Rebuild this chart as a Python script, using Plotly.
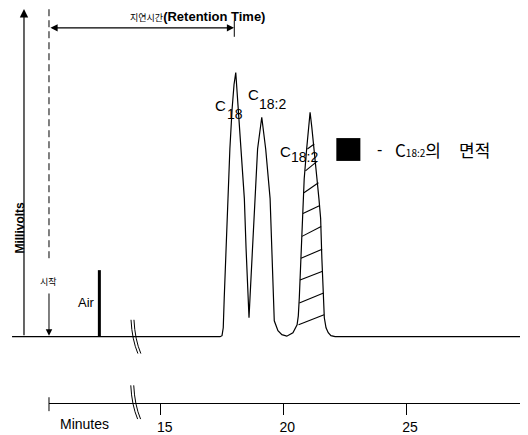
import plotly.graph_objects as go

# ---------------- data (time in minutes, signal in relative millivolt units) ----------------
time_min = [8.94, 17.42, 17.50, 17.55, 17.59, 17.66, 17.74, 17.82, 17.91, 17.99, 18.06,
            18.16, 18.27, 18.41, 18.48, 18.55, 18.60, 18.64, 18.75, 18.84, 18.95, 19.12,
            19.28, 19.46, 19.53, 19.59, 19.63, 19.78, 19.94, 20.14, 20.39, 20.56, 20.61,
            20.65, 20.72, 20.77, 20.85, 20.95, 21.02, 21.09, 21.16, 21.26, 21.37, 21.45,
            21.52, 21.57, 21.62, 21.67, 21.74, 21.83, 21.94, 22.11, 29.73]
signal = [0, 0, 1, 9, 39, 89, 139, 189, 229, 254, 266,
          229, 189, 139, 89, 39, 19, 39, 89, 139, 189, 221,
          189, 139, 89, 39, 16, 6, 2, 0.5, 4, 12, 21,
          39, 79, 119, 159, 189, 211, 226, 211, 189, 159, 139,
          119, 79, 39, 19, 9, 4, 1, 0, 0]

# hatch lines inside the C18:2 peak (left end -> right end)
hatch_left_t = [20.62, 20.65, 20.68, 20.72, 20.76, 20.80, 20.84, 20.90, 20.98]
hatch_left_y = [12, 34, 57, 79, 101, 124, 145, 167, 189]
hatch_right_t = [21.66, 21.64, 21.60, 21.58, 21.54, 21.49, 21.43, 21.35, 21.26]
hatch_right_y = [22, 44, 66, 88, 111, 132, 155, 176, 194]

air_time = 12.50
air_height = 67

start_time = 10.446
retention_time = 17.99

tick_values = [15, 20, 25]
tick_labels = ["15", "20", "25"]

# ---------------- figure ----------------
PAGE_W, PAGE_H = 528, 435
OFF = 8  # default page body margin
W, H = PAGE_W - OFF, PAGE_H - OFF
PX_PER_MIN = 24.53
X0 = 15 + (OFF - 160.7) / PX_PER_MIN
X1 = X0 + W / PX_PER_MIN
Y0, Y1 = -96, 339 - OFF

LAT = "Liberation Sans, Arial, sans-serif"
KR = "Noto Sans CJK KR, sans-serif"

fig = go.Figure()

fig.add_trace(go.Scatter(x=time_min, y=signal, mode="lines",
                         line=dict(color="black", width=1.2), hoverinfo="skip"))

hx, hy = [], []
for a, b, c, d in zip(hatch_left_t, hatch_left_y, hatch_right_t, hatch_right_y):
    hx += [a, c, None]
    hy += [b, d, None]
fig.add_trace(go.Scatter(x=hx, y=hy, mode="lines",
                         line=dict(color="black", width=1.1), hoverinfo="skip"))

fig.add_trace(go.Scatter(x=[air_time, air_time], y=[0, air_height], mode="lines",
                         line=dict(color="black", width=3), hoverinfo="skip"))

# invisible trace to realise the bottom time axis
fig.add_trace(go.Scatter(x=tick_values, y=[None] * len(tick_values), xaxis="x2", yaxis="y",
                         mode="markers", marker=dict(opacity=0), hoverinfo="skip"))

shapes = []
# dashed start line
shapes.append(dict(type="line", xref="x", yref="y", x0=start_time, x1=start_time, y0=79, y1=331,
                   line=dict(color="black", width=1, dash="7px,4px")))
# retention end tick
shapes.append(dict(type="line", xref="x", yref="y", x0=18.0, x1=18.0, y0=302, y1=318,
                   line=dict(color="black", width=1)))
# bottom axis start tick
shapes.append(dict(type="line", xref="x", yref="y", x0=start_time, x1=start_time, y0=-61, y1=-75,
                   line=dict(color="black", width=1)))
# axis break marks
for dx in (0, 0.12):
    shapes.append(dict(type="path", xref="x", yref="y",
                       path=f"M {13.79+dx},17 Q {13.83+dx},-3 {14.07+dx},-17",
                       line=dict(color="black", width=1)))
    shapes.append(dict(type="path", xref="x", yref="y",
                       path=f"M {13.78+dx},-49 Q {13.82+dx},-69 {14.06+dx},-83",
                       line=dict(color="black", width=1)))
# legend swatch
shapes.append(dict(type="rect", xref="x", yref="y", x0=22.16, x1=23.14, y0=177, y1=200,
                   fillcolor="black", line=dict(color="black", width=0)))

ann = []
# y axis arrow
ann.append(dict(x=9.427, y=330, ax=9.427, ay=0, xref="x", yref="y", axref="x", ayref="y",
                text="", showarrow=True, arrowhead=2, arrowsize=1.4, arrowwidth=1.2, arrowcolor="black"))
ann.append(dict(x=9.27, y=110, xref="x", yref="y", text="<b>Millivolts</b>", textangle=-90,
                showarrow=False, font=dict(family=LAT, size=12, color="black")))
# start arrow
ann.append(dict(x=start_time, y=1, ax=start_time, ay=45, xref="x", yref="y", axref="x", ayref="y",
                text="", showarrow=True, arrowhead=2, arrowsize=1.3, arrowwidth=1, arrowcolor="black"))
ann.append(dict(x=start_time, y=56, xref="x", yref="y", text="시작", showarrow=False,
                font=dict(family=KR, size=9, color="black")))
# retention arrow
ann.append(dict(x=retention_time, y=311, ax=start_time, ay=311, xref="x", yref="y", axref="x", ayref="y",
                text="", showarrow=True, arrowhead=2, startarrowhead=2, arrowside="end+start",
                arrowsize=1.3, startarrowsize=1.3, arrowwidth=1.1, arrowcolor="black"))
ann.append(dict(x=13.667, y=322, xref="x", yref="y", xanchor="left",
                text=f"<span style='font-family:{KR};font-size:9px'>지연시간</span><b>(Retention Time)</b>",
                showarrow=False, font=dict(family=LAT, size=13, color="black")))
# Air label
ann.append(dict(x=12.40, y=34, xref="x", yref="y", xanchor="right", text="Air", showarrow=False,
                font=dict(family=LAT, size=13, color="black")))
# peak labels
for (cx, cy, sx, sy, sub) in [(17.43, 233, 17.62, 224, "18"),
                              (18.79, 244, 18.94, 234, "18:2"),
                              (20.07, 186, 20.23, 181, "18:2")]:
    ann.append(dict(x=cx, y=cy, xref="x", yref="y", text="C", showarrow=False,
                    font=dict(family=LAT, size=15, color="black")))
    ann.append(dict(x=sx, y=sy, xref="x", yref="y", xanchor="left", text=sub, showarrow=False,
                    font=dict(family=LAT, size=14, color="black")))
# legend text
ann.append(dict(x=23.72, y=189, xref="x", yref="y", xanchor="left", text="-", showarrow=False,
                font=dict(family=LAT, size=16, color="black")))
ann.append(dict(x=24.47, y=189, xref="x", yref="y", xanchor="left",
                text="C<span style='font-size:10px'>18:2</span>의", showarrow=False,
                font=dict(family=KR, size=17, color="black")))
ann.append(dict(x=27.08, y=189, xref="x", yref="y", xanchor="left", text="면적", showarrow=False,
                font=dict(family=KR, size=17, color="black")))
# Minutes
ann.append(dict(x=11.91, y=-88, xref="x", yref="y", text="Minutes", showarrow=False,
                font=dict(family=LAT, size=14, color="black")))

fig.update_layout(
    width=W, height=H, margin=dict(l=0, r=0, t=0, b=0),
    paper_bgcolor="white", plot_bgcolor="rgba(0,0,0,0)", showlegend=False,
    xaxis=dict(range=[X0, X1], visible=False, fixedrange=True),
    yaxis=dict(range=[Y0, Y1], visible=False, fixedrange=True),
    xaxis2=dict(range=[X0 + (49 - OFF) / PX_PER_MIN, X0 + (522 - OFF) / PX_PER_MIN],
                domain=[(49 - OFF) / W, (522 - OFF) / W], anchor="free", position=(PAGE_H - 405.7) / H,
                showline=True, linecolor="black", linewidth=1.2,
                ticks="outside", ticklen=11, tickwidth=1, tickcolor="black",
                tickvals=tick_values, ticktext=tick_labels, showgrid=False, zeroline=False,
                tickfont=dict(family=LAT, size=14, color="black"), ticklabelshift=4,
                fixedrange=True),
    shapes=shapes, annotations=ann,
)

fig.write_html("out.html")
